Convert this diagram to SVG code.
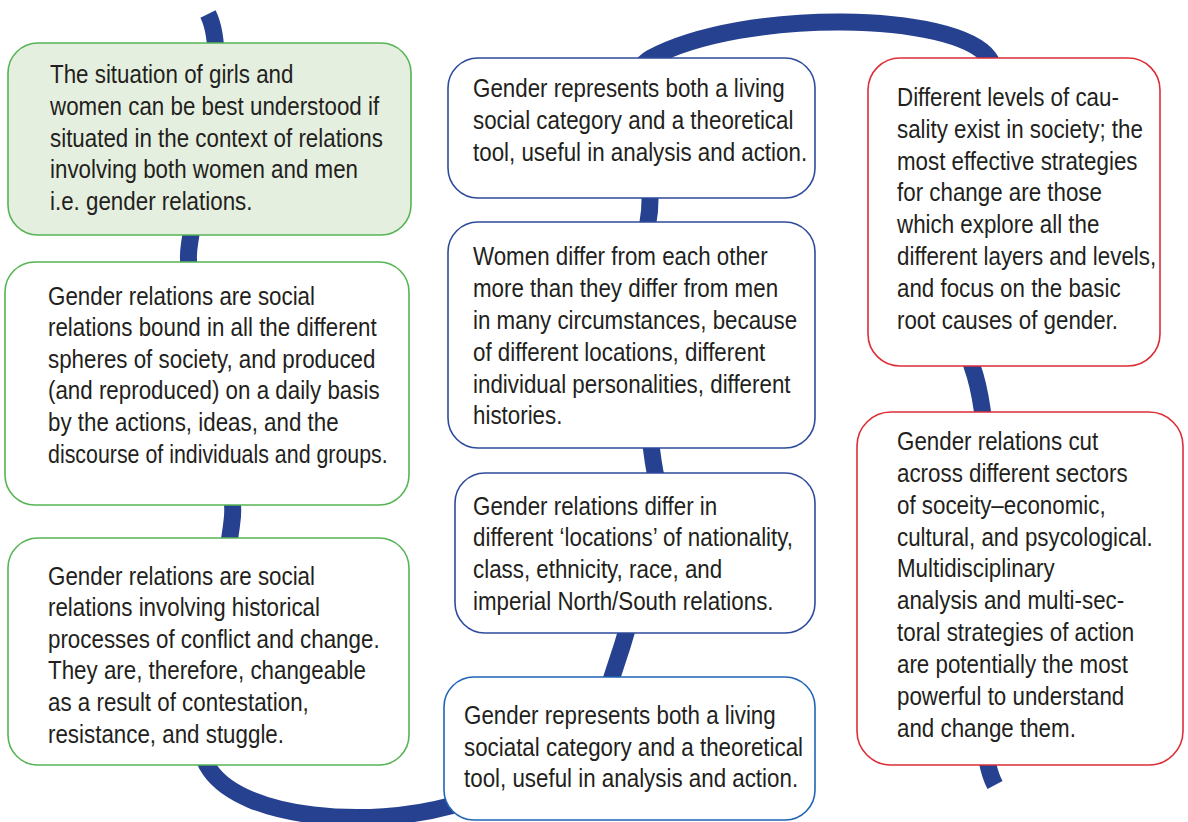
<svg xmlns="http://www.w3.org/2000/svg" width="1188" height="822" viewBox="0 0 1188 822">
  <style>
    .loop { fill: none; stroke: #26418f; stroke-width: 17; stroke-linecap: butt; stroke-linejoin: round; }
    .box { stroke-width: 1.6; }
    .green { fill: #ffffff; stroke: #55b454; }
    .green-fill { fill: #e5efdf; stroke: #55b454; }
    .blue { fill: #ffffff; stroke: #2e4a9b; }
    .blue2 { fill: #ffffff; stroke: #1f64b5; }
    .red { fill: #ffffff; stroke: #dd2e38; }
    .label { font-family: "Liberation Sans", Arial, sans-serif; font-size: 25px; fill: #231f20; }
  </style>

  <rect width="1188" height="822" fill="#ffffff"/>

  <!-- the continuous band that runs behind all the boxes -->
  <g id="connectors">
    <path class="loop" d="M208,14 C232,62 196,190 189,248
      C182,300 240,470 232,521
      C224,600 175,720 210,770
      C245,820 370,828 450,806
      C530,785 600,720 612,677
      C640,595 662,500 655,472
      C645,420 640,260 648,222
      C660,160 613,79 651,58
      C745,8 955,12 989,58
      C1020,100 952,305 972,366
      C1010,470 960,720 995,785"/>
  </g>

  <!-- left column -->
  <g id="node-situation">
    <rect class="box green-fill" x="8" y="43" width="403" height="192" rx="30"/>
    <text class="label" transform="matrix(0.894 0 0 1 50 0)">
      <tspan x="0" y="83">The situation of girls and</tspan>
      <tspan x="0" y="115">women can be best understood if</tspan>
      <tspan x="0" y="147">situated in the context of relations</tspan>
      <tspan x="0" y="178">involving both women and men</tspan>
      <tspan x="0" y="210">i.e. gender relations.</tspan>
    </text>
  </g>

  <g id="node-social-spheres">
    <rect class="box green" x="5" y="262" width="404" height="243" rx="30"/>
    <text class="label" transform="matrix(0.894 0 0 1 48 0)">
      <tspan x="0" y="305">Gender relations are social</tspan>
      <tspan x="0" y="336">relations bound in all the different</tspan>
      <tspan x="0" y="368">spheres of society, and produced</tspan>
      <tspan x="0" y="399">(and reproduced) on a daily basis</tspan>
      <tspan x="0" y="431">by the actions, ideas, and the</tspan>
      <tspan x="0" y="463" textLength="380" lengthAdjust="spacingAndGlyphs">discourse of individuals and groups.</tspan>
    </text>
  </g>

  <g id="node-historical">
    <rect class="box green" x="8" y="538" width="401" height="227" rx="30"/>
    <text class="label" transform="matrix(0.894 0 0 1 48 0)">
      <tspan x="0" y="585">Gender relations are social</tspan>
      <tspan x="0" y="616">relations involving historical</tspan>
      <tspan x="0" y="648">processes of conflict and change.</tspan>
      <tspan x="0" y="679">They are, therefore, changeable</tspan>
      <tspan x="0" y="711">as a result of contestation,</tspan>
      <tspan x="0" y="743">resistance, and stuggle.</tspan>
    </text>
  </g>

  <!-- middle column -->
  <g id="node-living-category">
    <rect class="box blue" x="448" y="58" width="367" height="140" rx="30"/>
    <text class="label" transform="matrix(0.894 0 0 1 473 0)">
      <tspan x="0" y="97">Gender represents both a living</tspan>
      <tspan x="0" y="129">social category and a theoretical</tspan>
      <tspan x="0" y="161">tool, useful in analysis and action.</tspan>
    </text>
  </g>

  <g id="node-women-differ">
    <rect class="box blue" x="448" y="222" width="367" height="226" rx="30"/>
    <text class="label" transform="matrix(0.894 0 0 1 473 0)">
      <tspan x="0" y="265">Women differ from each other</tspan>
      <tspan x="0" y="297">more than they differ from men</tspan>
      <tspan x="0" y="329">in many circumstances, because</tspan>
      <tspan x="0" y="361">of different locations, different</tspan>
      <tspan x="0" y="393">individual personalities, different</tspan>
      <tspan x="0" y="424">histories.</tspan>
    </text>
  </g>

  <g id="node-locations">
    <rect class="box blue" x="455" y="473" width="360" height="160" rx="30"/>
    <text class="label" transform="matrix(0.894 0 0 1 473 0)">
      <tspan x="0" y="515">Gender relations differ in</tspan>
      <tspan x="0" y="546">different ‘locations’ of nationality,</tspan>
      <tspan x="0" y="578">class, ethnicity, race, and</tspan>
      <tspan x="0" y="610">imperial North/South relations.</tspan>
    </text>
  </g>

  <g id="node-societal-category">
    <rect class="box blue2" x="444" y="677" width="371" height="143" rx="30"/>
    <text class="label" transform="matrix(0.894 0 0 1 464 0)">
      <tspan x="0" y="724">Gender represents both a living</tspan>
      <tspan x="0" y="756">sociatal category and a theoretical</tspan>
      <tspan x="0" y="787">tool, useful in analysis and action.</tspan>
    </text>
  </g>

  <!-- right column -->
  <g id="node-causality">
    <rect class="box red" x="868" y="58" width="292" height="308" rx="32"/>
    <text class="label" transform="matrix(0.894 0 0 1 897 0)">
      <tspan x="0" y="106">Different levels of cau-</tspan>
      <tspan x="0" y="138">sality exist in society; the</tspan>
      <tspan x="0" y="170">most effective strategies</tspan>
      <tspan x="0" y="201">for change are those</tspan>
      <tspan x="0" y="233">which explore all the</tspan>
      <tspan x="0" y="265">different layers and levels,</tspan>
      <tspan x="0" y="297">and focus on the basic</tspan>
      <tspan x="0" y="329">root causes of gender.</tspan>
    </text>
  </g>

  <g id="node-sectors">
    <rect class="box red" x="857" y="412" width="326" height="353" rx="34"/>
    <text class="label" transform="matrix(0.894 0 0 1 897 0)">
      <tspan x="0" y="450">Gender relations cut</tspan>
      <tspan x="0" y="482">across different sectors</tspan>
      <tspan x="0" y="514">of soceity–economic,</tspan>
      <tspan x="0" y="546">cultural, and psycological.</tspan>
      <tspan x="0" y="577">Multidisciplinary</tspan>
      <tspan x="0" y="609">analysis and multi-sec-</tspan>
      <tspan x="0" y="641">toral strategies of action</tspan>
      <tspan x="0" y="673">are potentially the most</tspan>
      <tspan x="0" y="705">powerful to understand</tspan>
      <tspan x="0" y="737">and change them.</tspan>
    </text>
  </g>
</svg>
